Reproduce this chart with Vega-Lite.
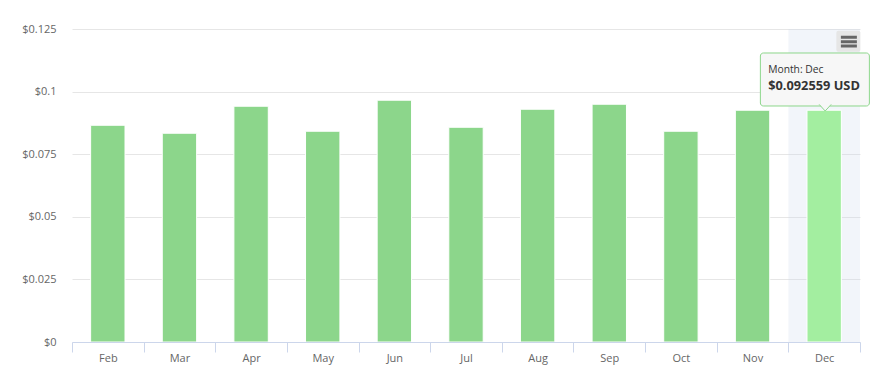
{
  "$schema": "https://vega.github.io/schema/vega-lite/v6.json",
  "autosize": {"type": "none"},
  "padding": {"left": 72, "top": 29, "right": 16, "bottom": 31},
  "width": 788,
  "height": 313,
  "background": "#ffffff",
  "config": {
    "view": {"stroke": null},
    "font": "Open Sans",
    "axis": {"labelFont": "Open Sans", "labelColor": "#666666", "labelFontSize": 11}
  },
  "data": {
    "values": [
      {"Month": "Feb", "Cost": 0.08656},
      {"Month": "Mar", "Cost": 0.08337},
      {"Month": "Apr", "Cost": 0.09416},
      {"Month": "May", "Cost": 0.08417},
      {"Month": "Jun", "Cost": 0.09656},
      {"Month": "Jul", "Cost": 0.08576},
      {"Month": "Aug", "Cost": 0.09296},
      {"Month": "Sep", "Cost": 0.09496},
      {"Month": "Oct", "Cost": 0.08417},
      {"Month": "Nov", "Cost": 0.09256},
      {"Month": "Dec", "Cost": 0.092559}
    ]
  },
  "encoding": {
    "x": {
      "field": "Month",
      "type": "nominal",
      "sort": null,
      "scale": {"domain": ["Feb", "Mar", "Apr", "May", "Jun", "Jul", "Aug", "Sep", "Oct", "Nov", "Dec"], "paddingInner": 0, "paddingOuter": 0},
      "axis": {
        "title": null,
        "labelAngle": 0,
        "tickBand": "extent",
        "tickSize": 10,
        "tickColor": "#ccd6eb",
        "domainColor": "#ccd6eb",
        "labelPadding": 0,
        "grid": false
      }
    }
  },
  "layer": [
    {
      "transform": [{"filter": "datum.Month === 'Dec'"}],
      "mark": {"type": "rect", "fill": "#ccd6eb", "opacity": 0.25},
      "encoding": {
        "y": {"datum": 0.125, "type": "quantitative"},
        "y2": {"datum": 0}
      }
    },
    {
      "mark": {"type": "bar", "width": {"band": 0.48}, "stroke": "#ffffff", "strokeWidth": 1},
      "encoding": {
        "y": {
          "field": "Cost",
          "type": "quantitative",
          "scale": {"domain": [0, 0.125], "nice": false},
          "axis": {
            "title": null,
            "values": [0, 0.025, 0.05, 0.075, 0.1, 0.125],
            "labelExpr": "'$' + datum.value",
            "grid": true,
            "gridColor": "#e6e6e6",
            "domain": false,
            "ticks": false,
            "labelPadding": 16
          }
        },
        "color": {
          "condition": {"test": "datum.Month === 'Dec'", "value": "#a3eea0"},
          "value": "#8cd68b"
        }
      }
    },
    {
      "transform": [{"filter": "datum.Month === 'Dec'"}],
      "mark": {"type": "bar", "width": 109, "xOffset": -9.3, "cornerRadius": 3, "fill": "#f7f7f7", "stroke": "#8cd68b", "strokeWidth": 1},
      "encoding": {
        "y": {"datum": 0.11542, "type": "quantitative"},
        "y2": {"datum": 0.09425}
      }
    },
    {
      "transform": [{"filter": "datum.Month === 'Dec'"}],
      "mark": {"type": "point", "shape": "M-1,-1.1L0,0L1,-1.1", "size": 144, "filled": true, "fill": "#f7f7f7", "stroke": "#8cd68b", "strokeWidth": 1, "opacity": 1, "xOffset": 1},
      "encoding": {
        "y": {"datum": 0.09225, "type": "quantitative"}
      }
    },
    {
      "transform": [{"filter": "datum.Month === 'Dec'"}],
      "mark": {"type": "text", "align": "left", "baseline": "alphabetic", "dx": -56, "fontSize": 10.3, "color": "#333333", "font": "Open Sans"},
      "encoding": {
        "y": {"datum": 0.10743, "type": "quantitative"},
        "text": {"value": "Month: Dec"}
      }
    },
    {
      "transform": [{"filter": "datum.Month === 'Dec'"}],
      "mark": {"type": "text", "align": "left", "baseline": "alphabetic", "dx": -56, "fontSize": 12.8, "fontWeight": "bold", "color": "#333333", "font": "Open Sans"},
      "encoding": {
        "y": {"datum": 0.10064, "type": "quantitative"},
        "text": {"value": "$0.092559 USD"}
      }
    },
    {
      "transform": [{"filter": "datum.Month === 'Dec'"}],
      "mark": {"type": "bar", "width": 24, "xOffset": 24.2, "cornerRadius": 2, "fill": "#e6e6e6"},
      "encoding": {
        "y": {"datum": 0.12432, "type": "quantitative"},
        "y2": {"datum": 0.11593}
      }
    },
    {
      "transform": [{"filter": "datum.Month === 'Dec'"}],
      "mark": {"type": "point", "shape": "M-1,-0.55L1,-0.55M-1,0L1,0M-1,0.55L1,0.55", "size": 256, "filled": false, "stroke": "#666666", "strokeWidth": 3, "opacity": 1, "xOffset": 24.7},
      "encoding": {
        "y": {"datum": 0.11993, "type": "quantitative"}
      }
    }
  ]
}
